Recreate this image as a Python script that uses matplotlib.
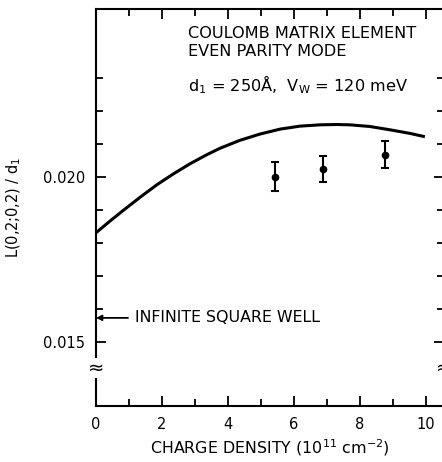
import matplotlib
matplotlib.use('Agg')
import matplotlib.pyplot as plt
from matplotlib.ticker import FixedLocator

plt.rcParams['font.family'] = 'DejaVu Sans'

# theory curve
curve_n = [0.0, 0.42, 0.83, 1.33, 1.84, 2.34, 2.85, 3.35, 3.76, 4.36, 4.97,
           5.58, 6.18, 6.79, 7.30, 7.70, 8.30, 8.91, 9.52, 9.97]
curve_L = [0.01831, 0.01866, 0.01899, 0.01938, 0.01976, 0.02009, 0.02040,
           0.02067, 0.02087, 0.02111, 0.02130, 0.02145, 0.02154, 0.02158,
           0.02159, 0.02158, 0.02153, 0.02143, 0.02132, 0.02122]

# measured points with error bars
meas_n = [5.44, 6.87, 8.76]
meas_L = [0.02001, 0.02024, 0.02067]
meas_err = [0.00043, 0.00039, 0.00041]

isw_value = 0.01573  # infinite square well level

x_major = [0, 2, 4, 6, 8, 10]
x_minor = [1, 3, 5, 7, 9]
y_major = [0.015, 0.020]
y_minor = [0.016, 0.017, 0.018, 0.019, 0.021, 0.022, 0.023]

fig = plt.figure(figsize=(4.42, 4.62), dpi=100)
ax = fig.add_axes([96 / 442, 1 - 406 / 462, 348 / 442, 397 / 462])

ax.plot(curve_n, curve_L, color='black', lw=2.2, solid_capstyle='butt',
        solid_joinstyle='round')

ax.errorbar(meas_n, meas_L, yerr=meas_err, fmt='o', color='black', ms=4.5,
            elinewidth=1.5, capsize=2.7, capthick=1.5)

ax.set_xlim(0, 10.55)
ax.set_ylim(0.01306, 0.02509)

ax.xaxis.set_major_locator(FixedLocator(x_major))
ax.xaxis.set_minor_locator(FixedLocator(x_minor))
ax.yaxis.set_major_locator(FixedLocator(y_major))
ax.yaxis.set_minor_locator(FixedLocator(y_minor))
ax.set_xticklabels([str(v) for v in x_major])
ax.set_yticklabels(['0.015', '0.020'])

ax.tick_params(which='both', direction='in', top=True, right=True,
               width=1.3, labelsize=10.5, pad=8)
ax.tick_params(which='major', length=7.5)
ax.tick_params(which='minor', length=5)

for sp in ax.spines.values():
    sp.set_linewidth(1.5)

ax.set_xlabel('CHARGE DENSITY (10$^{11}$ cm$^{-2}$)', fontsize=11.4, labelpad=4)
ax.set_ylabel('L(0,2;0,2) / d$_1$', fontsize=10.5, labelpad=14)

ax.text(0.264, 0.9395, 'COULOMB MATRIX ELEMENT', transform=ax.transAxes,
        fontsize=11.6, va='center', ha='left')
ax.text(0.264, 0.8917, 'EVEN PARITY MODE', transform=ax.transAxes,
        fontsize=11.6, va='center', ha='left')
ax.text(0.264, 0.8086, 'd$_1$ = 250$\\mathrm{\\AA}$,  V$_\\mathrm{W}$ = 120 meV',
        transform=ax.transAxes, fontsize=11.6, va='center', ha='left')

# infinite square well marker
ax.annotate('', xy=(0, isw_value), xytext=(0.97, isw_value),
            arrowprops=dict(arrowstyle='-|>', color='black', lw=1.3,
                            mutation_scale=8, shrinkA=0, shrinkB=0))
ax.text(1.18, isw_value, 'INFINITE SQUARE WELL', fontsize=11.4,
        va='center', ha='left')

# axis break marks
for xb in (0, 10.55):
    ax.text(xb, 0.01421, '\u2248', fontsize=14, ha='center', va='center',
            clip_on=False, bbox=dict(fc='white', ec='none', pad=0.5))

fig.savefig('out.png', dpi=100)
